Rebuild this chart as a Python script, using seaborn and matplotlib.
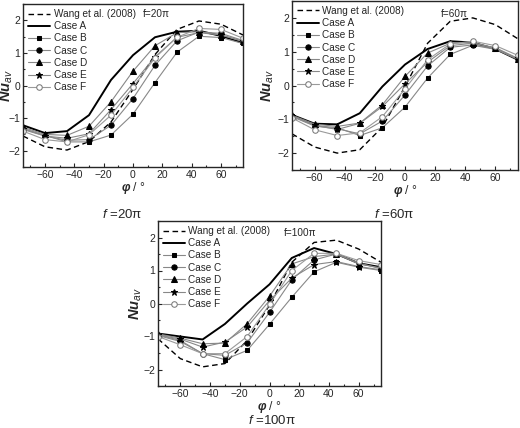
import numpy as np
import matplotlib
matplotlib.use("Agg")
import matplotlib.pyplot as plt
from matplotlib.ticker import MultipleLocator
import seaborn as sns

phi = [-75, -60, -45, -30, -15, 0, 15, 30, 45, 60, 75]

# f = 20 pi
wang_20 = [-1.55, -1.88, -1.98, -1.72, -1.12, -0.12, 0.95, 1.72, 1.98, 1.88, 1.55]
a_20 = [-1.22, -1.46, -1.40, -0.91, 0.17, 0.93, 1.48, 1.65, 1.68, 1.52, 1.31]
b_20 = [-1.32, -1.53, -1.73, -1.73, -1.52, -0.88, 0.09, 1.02, 1.51, 1.47, 1.29]
c_20 = [-1.35, -1.55, -1.68, -1.66, -1.22, -0.40, 0.62, 1.37, 1.64, 1.60, 1.38]
d_20 = [-1.28, -1.50, -1.53, -1.25, -0.50, 0.44, 1.22, 1.62, 1.65, 1.55, 1.35]
e_20 = [-1.32, -1.55, -1.62, -1.48, -0.74, 0.06, 0.88, 1.48, 1.62, 1.55, 1.36]
f_20 = [-1.40, -1.66, -1.73, -1.51, -0.91, -0.06, 0.85, 1.48, 1.75, 1.72, 1.45]

# f = 60 pi
wang_60 = [-1.43, -1.82, -2.00, -1.90, -1.23, -0.03, 1.25, 1.90, 2.00, 1.80, 1.38]
a_60 = [-0.87, -1.13, -1.15, -0.82, -0.03, 0.62, 1.08, 1.31, 1.27, 1.08, 0.76]
b_60 = [-0.90, -1.18, -1.25, -1.48, -1.25, -0.64, 0.22, 0.92, 1.19, 1.07, 0.77]
c_60 = [-0.92, -1.20, -1.28, -1.43, -1.05, -0.28, 0.58, 1.13, 1.20, 1.10, 0.78]
d_60 = [-0.88, -1.14, -1.21, -1.11, -0.57, 0.27, 0.96, 1.25, 1.27, 1.10, 0.78]
e_60 = [-0.90, -1.18, -1.30, -1.12, -0.62, 0.05, 0.69, 1.18, 1.25, 1.12, 0.80]
f_60 = [-0.96, -1.31, -1.48, -1.40, -0.92, -0.10, 0.76, 1.23, 1.31, 1.18, 0.89]

# f = 100 pi
wang_100 = [-1.07, -1.67, -1.92, -1.82, -1.12, -0.05, 1.25, 1.85, 1.92, 1.65, 1.25]
a_100 = [-0.91, -1.00, -1.09, -0.62, 0.00, 0.58, 1.38, 1.68, 1.50, 1.22, 1.10]
b_100 = [-0.95, -1.12, -1.52, -1.70, -1.42, -0.63, 0.19, 0.96, 1.25, 1.10, 1.00]
c_100 = [-0.97, -1.15, -1.52, -1.57, -1.19, -0.27, 0.72, 1.32, 1.50, 1.23, 1.05]
d_100 = [-0.92, -1.05, -1.22, -1.20, -0.61, 0.22, 1.20, 1.42, 1.50, 1.20, 1.08]
e_100 = [-0.95, -1.08, -1.32, -1.17, -0.71, 0.09, 0.77, 1.18, 1.27, 1.12, 1.02]
f_100 = [-1.00, -1.25, -1.52, -1.52, -1.00, -0.03, 1.00, 1.52, 1.52, 1.30, 1.18]

panels = [
    ("20", [wang_20, a_20, b_20, c_20, d_20, e_20, f_20]),
    ("60", [wang_60, a_60, b_60, c_60, d_60, e_60, f_60]),
    ("100", [wang_100, a_100, b_100, c_100, d_100, e_100, f_100]),
]
labels = ["Wang et al. (2008)", "Case A", "Case B", "Case C", "Case D", "Case E", "Case F"]

sns.set_style("ticks")
plt.rcParams['font.family'] = ['Liberation Sans', 'DejaVu Sans']
plt.rcParams['mathtext.fontset'] = 'custom'
plt.rcParams['mathtext.rm'] = 'Liberation Sans'
plt.rcParams['mathtext.it'] = 'Liberation Sans:italic'
plt.rcParams['mathtext.bf'] = 'Liberation Sans:italic:bold'
fs = 7.2

fig = plt.figure(figsize=(5.2, 4.28), dpi=100)

# axes boxes in pixels: left, top, right, bottom
boxes = [(23, 4, 243, 167), (292, 1, 518, 170), (158, 221, 381, 386)]
title_y = [215, 215, 421]
title_x = [122, 394, 272]
tag_pos = [(0.545, 0.94), (0.66, 0.925), (0.565, 0.93)]
ylab_x = [-0.037, -0.07, -0.063]

grey = "#888888"
styles = [
    dict(color="black", linestyle=(0, (4, 2.5)), linewidth=1.0),
    dict(color="black", linewidth=1.4),
    dict(color=grey, linewidth=0.8, marker="s", markersize=3.5, markerfacecolor="black", markeredgecolor="black"),
    dict(color=grey, linewidth=0.8, marker="o", markersize=3.8, markerfacecolor="black", markeredgecolor="black"),
    dict(color=grey, linewidth=0.8, marker="^", markersize=4.0, markerfacecolor="black", markeredgecolor="black"),
    dict(color=grey, linewidth=0.8, marker="*", markersize=4.5, markerfacecolor="black", markeredgecolor="black"),
    dict(color="#9a9a9a", linewidth=0.8, marker="o", markersize=4.0, markerfacecolor="white", markeredgecolor="#7a7a7a"),
]

W, H = 520, 428
for i, ((tag, series), (l, t, r, b)) in enumerate(zip(panels, boxes)):
    ax = fig.add_axes([l / W, 1 - b / H, (r - l) / W, (b - t) / H])
    for vals, lab, st in zip(series, labels, styles):
        sns.lineplot(x=phi, y=vals, ax=ax, label=lab, **st)
    ax.set_xlim(-75, 75)
    ax.set_ylim(-2.5, 2.5)
    ax.xaxis.set_major_locator(MultipleLocator(20))
    ax.xaxis.set_minor_locator(MultipleLocator(10))
    ax.yaxis.set_major_locator(MultipleLocator(1))
    ax.yaxis.set_minor_locator(MultipleLocator(0.5))
    ax.tick_params(which="both", direction="in", labelsize=fs + 0.3, pad=2, width=0.8)
    ax.tick_params(which="major", length=3)
    ax.tick_params(which="minor", length=1.5)
    for s in ax.spines.values():
        s.set_linewidth(1.0)
    ax.set_xticks([-60, -40, -20, 0, 20, 40, 60])
    ax.set_ylabel(r"$\mathbf{Nu}_{av}$", fontsize=10.5)
    ax.yaxis.set_label_coords(ylab_x[i], 0.5)
    ax.set_xlabel(r"$\mathbf{\varphi}$ / °", fontsize=fs + 1.5, labelpad=0)
    ax.legend(loc="upper left", frameon=False, fontsize=fs, handlelength=2.2,
              labelspacing=0.22, handletextpad=0.35, borderaxespad=0.2, borderpad=0.3)
    ax.text(tag_pos[i][0], tag_pos[i][1], "f=" + tag + "π", transform=ax.transAxes,
            fontsize=fs, va="center", ha="left")
    fig.text(title_x[i] / W, 1 - title_y[i] / H, "$\\it{f}$ =" + tag + "π",
             fontsize=9.5, ha="center", va="center")

fig.savefig("out.png", dpi=100)
